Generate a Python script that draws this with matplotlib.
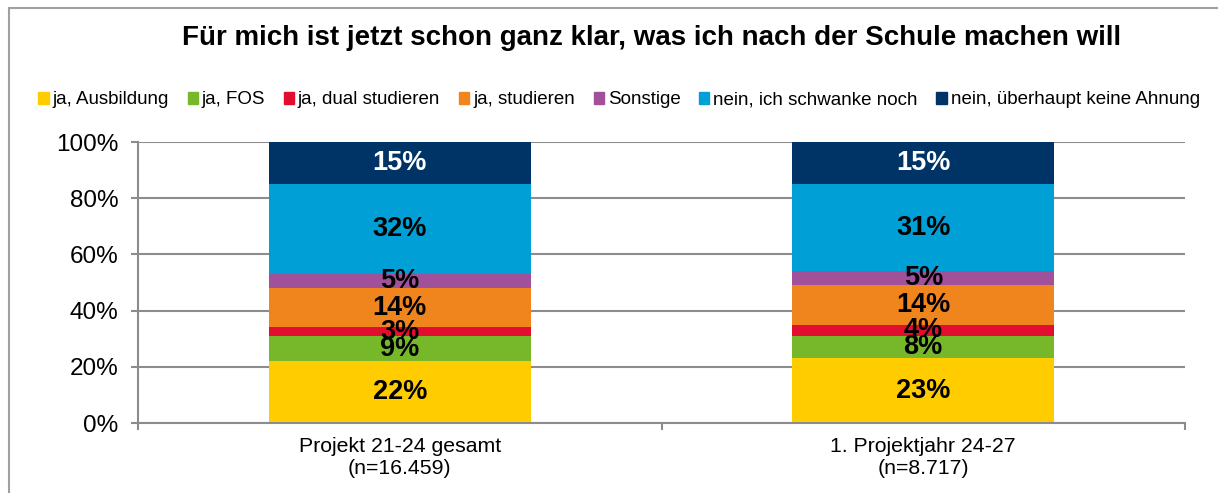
import numpy as np
import matplotlib.pyplot as plt
from matplotlib.patches import Rectangle

plt.rcParams['font.family'] = ['Liberation Sans', 'DejaVu Sans']

# data
groups = ["Projekt 21-24 gesamt\n(n=16.459)", "1. Projektjahr 24-27\n(n=8.717)"]
series = ["ja, Ausbildung", "ja, FOS", "ja, dual studieren", "ja, studieren",
          "Sonstige", "nein, ich schwanke noch", "nein, überhaupt keine Ahnung"]
values = np.array([
    [22, 23],
    [9, 8],
    [3, 4],
    [14, 14],
    [5, 5],
    [32, 31],
    [15, 15],
])
colors = ["#FFCC00", "#77B82A", "#E30E2F", "#EF851C", "#A0519A", "#009FD6", "#003366"]
text_colors = ["black"] * 6 + ["white"]

fig = plt.figure(figsize=(12.18, 4.93), dpi=100)
ax = fig.add_axes([138 / 1218, 1 - 423 / 493, (1185 - 138) / 1218, (423 - 142) / 493])

x = np.arange(len(groups))
bottom = np.zeros(len(groups))
handles = []
for i, name in enumerate(series):
    ax.bar(x, values[i], 0.5, bottom=bottom, color=colors[i], label=name, zorder=2)
    for xi, v, b in zip(x, values[i], bottom):
        ax.text(xi, b + v / 2, f"{v}%", ha="center", va="center",
                fontsize=19.5, fontweight="bold", color=text_colors[i], zorder=3)
    bottom += values[i]
    handles.append(Rectangle((0, 0), 1, 1, color=colors[i]))

ax.set_xlim(-0.5, 1.5)
ax.set_ylim(0, 100)
ax.set_yticks(range(0, 101, 20))
ax.set_yticklabels([f"{t}%" for t in range(0, 101, 20)], fontsize=17.5)
ax.yaxis.grid(True, color="#8c8c8c", linewidth=1.5, zorder=1)
ax.set_axisbelow(True)

ax.set_xticks(x)
ax.set_xticklabels(groups, fontsize=15.3)
ax.set_xticks([-0.5, 0.5, 1.5], minor=True)
ax.tick_params(axis="x", which="major", length=0, pad=10)
ax.tick_params(axis="x", which="minor", length=5, color="#8c8c8c", width=1.5)
ax.tick_params(axis="y", length=5, color="#8c8c8c", width=1.5, pad=9)

for s in ["top", "right"]:
    ax.spines[s].set_visible(False)
for s in ["left", "bottom"]:
    ax.spines[s].set_color("#8c8c8c")
    ax.spines[s].set_linewidth(1.5)

fig.text(652 / 1218, 1 - 38 / 493, "Für mich ist jetzt schon ganz klar, was ich nach der Schule machen will",
         ha="center", va="center", fontsize=20, fontweight="bold")

fig.legend(handles, series, loc="center", bbox_to_anchor=(619 / 1218, 1 - 100 / 493), ncol=7,
           frameon=False, fontsize=13.5, handlelength=0.55, handleheight=0.55,
           handletextpad=0.2, columnspacing=1.0, borderaxespad=0)

# chart frame
fig.patches.append(Rectangle((9 / 1218, -0.1), 1.2, 1 - 8 / 493 + 0.1, transform=fig.transFigure,
                             fill=False, edgecolor="#a0a0a0", linewidth=1.5))

fig.savefig("out.png", dpi=100)
